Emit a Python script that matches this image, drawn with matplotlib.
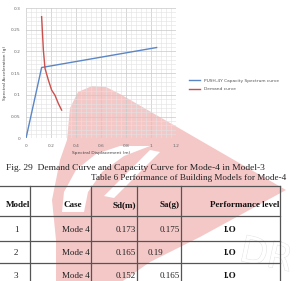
import matplotlib
matplotlib.use("Agg")
import matplotlib.pyplot as plt
from matplotlib.patches import Polygon
from matplotlib.ticker import MultipleLocator
import matplotlib.patheffects as pe

# ---- data ----
cap_sd = [0.0, 0.125, 1.045]
cap_sa = [0.0, 0.163, 0.209]
dem_sd = [0.125, 0.139, 0.152, 0.179, 0.205, 0.232, 0.259, 0.285]
dem_sa = [0.280, 0.203, 0.161, 0.134, 0.111, 0.099, 0.080, 0.065]

x_ticks = [0, 0.2, 0.4, 0.6, 0.8, 1, 1.2]
y_ticks = [0, 0.05, 0.1, 0.15, 0.2, 0.25, 0.3]

table_header = ["Model", "Case", "Sd(m)", "Sa(g)", "Performance level"]
models = ["1", "2", "3"]
cases = ["Mode 4", "Mode 4", "Mode 4"]
sd_vals = ["0.173", "0.165", "0.152"]
sa_vals = ["0.175", "0.19", "0.165"]
perf = ["I.O", "I.O", "I.O"]

W, H = 300, 281
fig = plt.figure(figsize=(3.0, 2.81), dpi=100)
fig.patch.set_facecolor("white")

def fx(px):
    return px / W

def fy(py):
    return 1 - py / H

def fpoly(pts, **kw):
    fig.patches.append(Polygon([(fx(a), fy(b)) for a, b in pts], closed=True,
                               transform=fig.transFigure, edgecolor="none", **kw))

# watermark (pink triangle with white swoosh), in the background
fpoly([(67, 140), (70, 108), (78, 92), (92, 86), (106, 87), (120, 94), (286, 190),
       (200, 237), (150, 262), (110, 290), (56, 290), (56, 240), (52, 200), (60, 160)],
      facecolor="#f5c8c8", zorder=0)
fpoly([(62, 212), (64, 192), (76, 170), (96, 154), (120, 146), (150, 146),
       (124, 156), (102, 172), (88, 192), (84, 212)],
      facecolor="white", zorder=0.5)
fpoly([(150, 150), (160, 152), (114, 198), (104, 196)], facecolor="white", zorder=0.5)

ax = fig.add_axes([fx(26), fy(138.3), fx(176) - fx(26), fy(8) - fy(138.3)])
ax.set_zorder(2)
ax.set_facecolor("none")
ax.plot(cap_sd, cap_sa, color="#5b86c5", lw=1.0, label="PUSH-4Y Capacity Spectrum curve", zorder=3)
ax.plot(dem_sd, dem_sa, color="#c9504d", lw=1.0, label="Demand curve", zorder=3)
ax.set_xlim(0, 1.2)
ax.set_ylim(0, 0.3)
ax.set_xticks(x_ticks)
ax.set_xticklabels([str(v) for v in x_ticks])
ax.set_yticks(y_ticks)
ax.set_yticklabels([str(v) for v in y_ticks])
ax.xaxis.set_minor_locator(MultipleLocator(0.04))
ax.yaxis.set_minor_locator(MultipleLocator(0.01))
ax.grid(which="major", color="#c8c8c8", lw=0.5)
ax.grid(which="minor", color="#e2e2e2", lw=0.4)
ax.tick_params(which="both", length=0, labelsize=3.2, colors="#666666", pad=4)
for s in ax.spines.values():
    s.set_visible(False)
ax.set_xlabel("Spectral Displacement (m)", fontsize=3.2, color="#444444", labelpad=2)
ax.set_ylabel("Spectral Acceleration (g)", fontsize=3.2, color="#444444", labelpad=3)
leg = ax.legend(loc="upper left", bbox_to_anchor=(1.06, 0.49), fontsize=3.2,
                frameon=False, handlelength=2.5, labelspacing=1.0)
for t in leg.get_texts():
    t.set_color("#555555")

# faint watermark letters
fig.text(fx(266), fy(256), "DR", fontsize=26, color="white", rotation=-12,
         ha="center", va="center", family=["DejaVu Sans"], zorder=0.6,
         path_effects=[pe.withStroke(linewidth=0.7, foreground="#e2e2e2")])

serif = ["Liberation Serif", "DejaVu Serif"]
fig.text(fx(6), fy(168), "Fig. 29  Demand Curve and Capacity Curve for Mode-4 in Model-3",
         fontsize=6.8, family=serif, va="center", ha="left", color="#222222", zorder=3)
fig.text(fx(91), fy(178.5), "Table 6 Performance of Building Models for Mode-4",
         fontsize=6.6, family=serif, va="center", ha="left", color="#222222", zorder=3)

# table lines
vx = [30, 91, 137, 181, 280]
hy = [186, 216, 241, 263]
line_kw = dict(color="#555555", lw=0.9, transform=fig.transFigure, zorder=3)
for y in hy:
    fig.add_artist(plt.Line2D([fx(0), fx(280)], [fy(y), fy(y)], **line_kw))
for x in vx:
    fig.add_artist(plt.Line2D([fx(x), fx(x)], [fy(186), fy(281)], **line_kw))

# header
hdr_pos = [30, 82, 136, 180, 279]
for x, txt in zip(hdr_pos, table_header):
    fig.text(fx(x), fy(205), txt, fontsize=6.5, family=serif, weight="bold",
             ha="right", va="center", color="#111111", zorder=3)

row_y = [230, 253, 276]
for i, y in enumerate(row_y):
    fig.text(fx(16), fy(y), models[i], fontsize=6.5, family=serif, ha="center", va="center", color="#222222", zorder=3)
    fig.text(fx(90), fy(y), cases[i], fontsize=6.5, family=serif, ha="right", va="center", color="#222222", zorder=3)
    fig.text(fx(136), fy(y), sd_vals[i], fontsize=6.5, family=serif, ha="right", va="center", color="#222222", zorder=3)
    sx = 163 if sa_vals[i] == "0.19" else 180
    fig.text(fx(sx), fy(y), sa_vals[i], fontsize=6.5, family=serif, ha="right", va="center", color="#222222", zorder=3)
    fig.text(fx(230), fy(y), perf[i], fontsize=6.5, family=serif, weight="bold", ha="center", va="center", color="#111111", zorder=3)

fig.savefig("out.png", dpi=100)
